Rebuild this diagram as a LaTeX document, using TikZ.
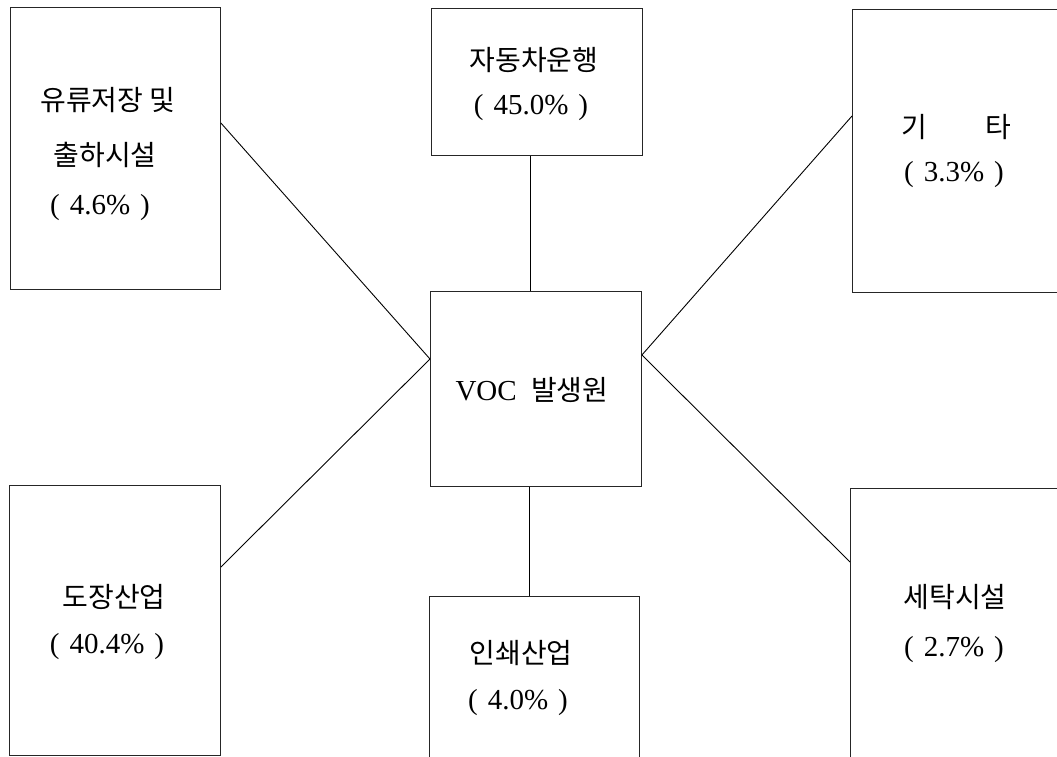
\documentclass[tikz,border=0pt]{standalone}
\usepackage{fontspec}
\setmainfont{Liberation Serif}
\newfontfamily\kr{Noto Sans CJK KR}
\usetikzlibrary{calc}
\newcommand{\pgap}{\hspace{10pt}}
\tikzset{
  box/.style={draw=black!85, line width=0.9pt, anchor=north west, inner sep=0pt},
  txt/.style={inner sep=0pt, anchor=center, font=\fontsize{29}{34}\selectfont},
  link/.style={draw=black, line width=0.9pt}
}
\begin{document}
\begin{tikzpicture}[x=1pt, y=-1pt]
\useasboundingbox (0,0) rectangle (1057,756);
\clip (0,0) rectangle (1057,756);
\fill[white] (0,0) rectangle (1057,756);
% boxes
\node[box, minimum width=210pt, minimum height=282pt] (tl) at (10,7) {};
\node[box, minimum width=211pt, minimum height=147pt] (tc) at (431,8) {};
\node[box, minimum width=260pt, minimum height=283pt] (tr) at (852,9) {};
\node[box, minimum width=211pt, minimum height=195pt] (c) at (430,291) {};
\node[box, minimum width=211pt, minimum height=270pt] (bl) at (9,485) {};
\node[box, minimum width=210pt, minimum height=220pt] (bc) at (429,596) {};
\node[box, minimum width=260pt, minimum height=300pt] (br) at (850,488) {};
% texts
\node[txt] (tl1) at (108,100) {\kr\fontsize{28}{34}\selectfont 유류저장 및};
\node[txt] (tl2) at (105,155) {\kr\fontsize{28}{34}\selectfont 출하시설};
\node[txt] (tl3) at (100,208) {(\pgap4.6\%\pgap)};
\node[txt] (tc1) at (534,60) {\kr\fontsize{28}{34}\selectfont 자동차운행};
\node[txt] (tc2) at (531,108) {(\pgap45.0\%\pgap)};
\node[txt] (tr1) at (956,127) {\kr\fontsize{28}{34}\selectfont 기\hspace{58pt}타};
\node[txt] (tr2) at (954,175) {(\pgap3.3\%\pgap)};
\node[txt] (c1) at (532,390) {VOC\ \ {\kr\fontsize{28}{34}\selectfont 발생원}};
\node[txt] (bl1) at (114,597) {\kr\fontsize{28}{34}\selectfont 도장산업};
\node[txt] (bl2) at (107,647) {(\pgap40.4\%\pgap)};
\node[txt] (bc1) at (521,653) {\kr\fontsize{28}{34}\selectfont 인쇄산업};
\node[txt] (bc2) at (518,703) {(\pgap4.0\%\pgap)};
\node[txt] (br1) at (955,597) {\kr\fontsize{28}{34}\selectfont 세탁시설};
\node[txt] (br2) at (954,650) {(\pgap2.7\%\pgap)};
% connector points
\coordinate (cl) at ($(c.north west)+(0,68)$);
\coordinate (cr) at ($(c.north east)+(0,64)$);
\coordinate (tlp) at ($(tl.north east)+(0,116)$);
\coordinate (blp) at ($(bl.north east)+(0,82)$);
\coordinate (trp) at ($(tr.north west)+(0,107)$);
\coordinate (brp) at ($(br.north west)+(0,74)$);
% connectors
\draw[link] (tc.south -| 530,0) -- (c.north -| 530,0);
\draw[link] (c.south -| 529,0) -- (bc.north -| 529,0);
\draw[link] (tlp) -- (cl);
\draw[link] (blp) -- (cl);
\draw[link] (trp) -- (cr);
\draw[link] (brp) -- (cr);
\end{tikzpicture}
\end{document}
